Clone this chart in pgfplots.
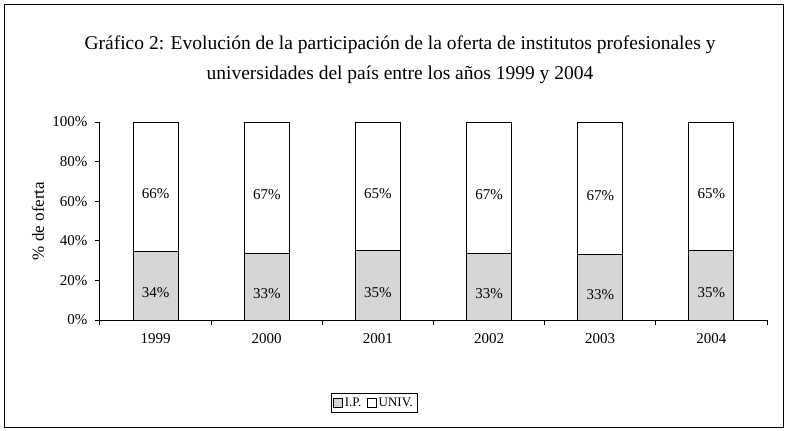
\documentclass[border=0pt]{standalone}
\usepackage{pgfplots}
\pgfplotsset{compat=1.18}
\usepackage{fontspec}
\setmainfont{Liberation Serif}
\definecolor{ipgray}{HTML}{D6D6D6}

\begin{document}
\begin{tikzpicture}
\useasboundingbox (0pt,0pt) rectangle (793pt,-431pt);
\draw[line width=1pt] (4.5pt,-4.5pt) rectangle (783pt,-427.5pt);
\node[align=center, font=\fontsize{19.5}{30}\selectfont] at (400pt,-60pt)
  {Gráfico 2: Evolución de la participación de la oferta de institutos profesionales y\\
   universidades del país entre los años 1999 y 2004};
\begin{axis}[
  at={(100pt,-320pt)}, anchor=south west,
  scale only axis, width=667pt, height=198pt,
  ybar stacked, bar width=0.405,
  xmin=-0.5, xmax=5.5, ymin=0, ymax=100,
  axis x line*=bottom, axis y line*=left,
  axis line style={line width=1pt},
  tick align=outside, major tick length=5pt,
  tick style={black, line width=1pt},
  xtick={-0.5,0.5,...,5.5},
  xticklabels={1999,2000,2001,2002,2003,2004,{}},
  x tick label style={xshift=55.58pt, yshift=-5pt},
  ytick={0,20,...,100},
  yticklabel={\pgfmathprintnumber[assume math mode=true]{\tick}\%},
  y tick label style={xshift=-4pt},
  tick label style={font=\fontsize{15}{18}\selectfont},
  ylabel={\% de oferta},
  ylabel style={at={(axis description cs:-0.093,0.5)}, anchor=center,
    font=\fontsize{17}{19}\selectfont},
  legend style={at={(0.411,-0.419)}, anchor=center, draw=black, line width=0.8pt,
    font=\fontsize{13}{15}\selectfont, legend columns=2, inner sep=2.5pt,
    /tikz/every even column/.append style={column sep=4pt}},
  legend image code/.code={\draw[#1, line width=0.8pt] (0pt,-4pt) rectangle (8.5pt,4.5pt);},
  point meta=explicit symbolic,
  nodes near coords,
  every node near coord/.append style={anchor=center, yshift=-7pt,
    font=\fontsize{15}{18}\selectfont},
]
\addplot[fill=ipgray, draw=black, line width=1pt]
  coordinates {(0,34.4) [34\%] (1,33.4) [33\%] (2,35.0) [35\%]
               (3,33.4) [33\%] (4,33.0) [33\%] (5,35.2) [35\%]};
\addplot[fill=white, draw=black, line width=1pt]
  coordinates {(0,65.6) [66\%] (1,66.6) [67\%] (2,65.0) [65\%]
               (3,66.6) [67\%] (4,67.0) [67\%] (5,64.8) [65\%]};
\legend{I.P., UNIV.}
\end{axis}
\end{tikzpicture}
\end{document}
